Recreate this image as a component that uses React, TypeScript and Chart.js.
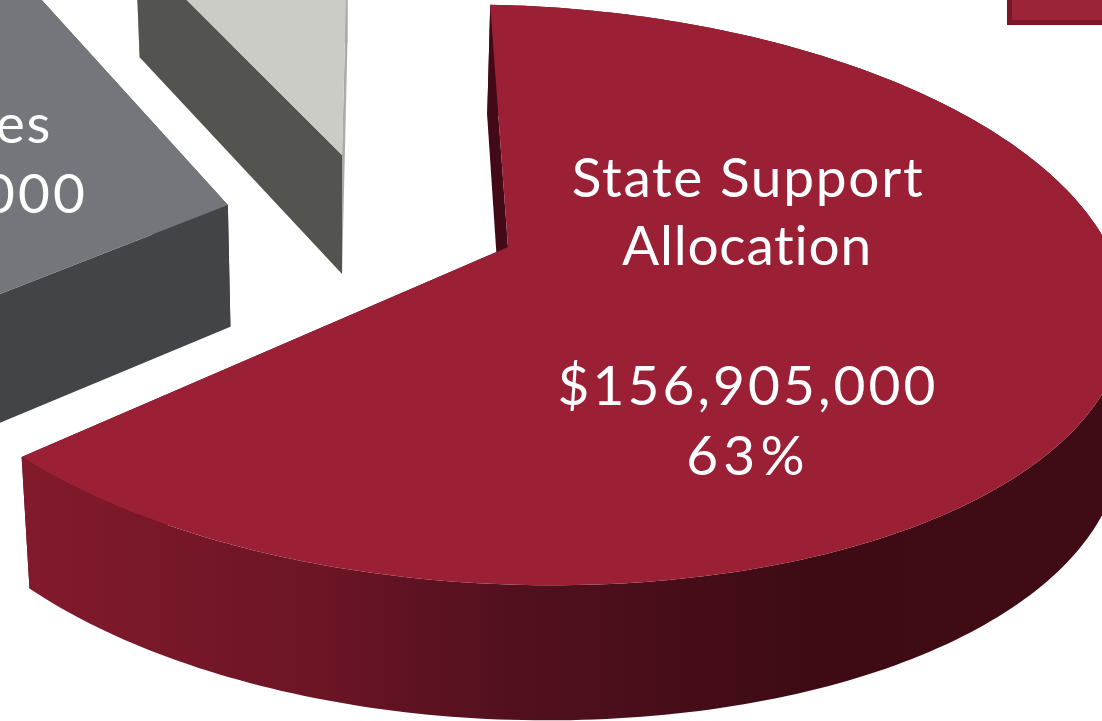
import React, { useEffect, useRef } from "react";
import { Chart, ArcElement, PieController, Tooltip } from "chart.js";

const categories = ["State Support Allocation", "Tuition and Fees", "Other"];
const shareValues = [63, 30.15, 6.85];
const sliceColors = ["#9b2036", "#74767b", "#cbccc6"];
const stateLabelLines = ["State Support", "Allocation", "$156,905,000", "63%"];
const clippedLabelLines = ["es", "000"];

// Perspective of the pie's plane on the page
const PLANE = { a: 614.3, s: 18.2, x0: 508, b: 241, c: -20, y0: 247, h: 0.027, g: 0.163 };
const SLICE_SHIFT = [[0, 0], [-0.443, -0.194], [-0.2295, -0.3664]];
const WALL_START = ["#420a17", "#434448", "#535350"];
const WALL_END = ["#420a17", "#434448", "#a9aba6"];
const WALL_RIM = ["#420a17", "#434448", "#a9aba6"];

function project(u: number, v: number) {
  const { a, s, x0, b, c, y0, h, g } = PLANE;
  const w = 1 + h * u - g * v;
  return { x: (x0 + a * u + s * v) / w, y: (y0 + b * v + c * u) / w, w };
}
function lower(p: { x: number; y: number; w: number }) {
  const d = 123 - 73 * (p.w - 1);
  const shift = Math.max((342 - p.x) * 0.000186 * d, -4);
  return { x: p.x + shift, y: p.y + d, w: p.w };
}
function poly(ctx: CanvasRenderingContext2D, pts: { x: number; y: number }[], fill: any) {
  ctx.beginPath();
  pts.forEach((p, i) => (i ? ctx.lineTo(p.x, p.y) : ctx.moveTo(p.x, p.y)));
  ctx.closePath();
  ctx.fillStyle = fill;
  ctx.fill();
}

class Arc3D extends ArcElement {
  static id = "arc3d";
  draw(ctx: CanvasRenderingContext2D) {
    const self: any = this;
    const i: number = self.$context.dataIndex;
    const { startAngle, endAngle, options } = self;
    const [du, dv] = SLICE_SHIFT[i];
    const apex = project(du, dv);
    const rim: any[] = [];
    const n = 240;
    for (let k = 0; k <= n; k++) {
      const t = startAngle + ((endAngle - startAngle) * k) / n;
      rim.push(project(du + Math.cos(t), dv + Math.sin(t)));
    }
    const rimLow = rim.map(lower);
    const apexLow = lower(apex);
    ctx.save();
    poly(ctx, [apex, apexLow, rimLow[n], rim[n]], WALL_END[i]);
    let rimFill: any = WALL_RIM[i];
    if (i === 0) {
      const g = ctx.createLinearGradient(22, 0, 1000, 0);
      g.addColorStop(0, "#821a2c");
      g.addColorStop(0.3, "#6c1525");
      g.addColorStop(0.5, "#52101e");
      g.addColorStop(0.8, "#3e0b14");
      g.addColorStop(1, "#3f0b14");
      rimFill = g;
    }
    poly(ctx, [...rim, ...rimLow.slice().reverse()], rimFill);
    poly(ctx, [apex, apexLow, rimLow[0], rim[0]], WALL_START[i]);
    poly(ctx, [apex, ...rim], options.backgroundColor);
    ctx.restore();
  }
}

class Pie3D extends PieController {
  static id = "pie3d";
  static defaults = { ...(PieController as any).defaults, dataElementType: "arc3d" };
  static overrides = (PieController as any).overrides;
}

function text(ctx: CanvasRenderingContext2D, s: string, x: number, y: number, spacing: number, align: CanvasTextAlign) {
  (ctx as any).letterSpacing = spacing + "px";
  ctx.textAlign = align;
  ctx.fillText(s, x, y);
}

const labelsPlugin = {
  id: "labels3d",
  afterDatasetsDraw(chart: any) {
    const ctx: CanvasRenderingContext2D = chart.ctx;
    ctx.save();
    ctx.fillStyle = "#ffffff";
    ctx.font = '400 55px "Lato", sans-serif';
    ctx.textBaseline = "alphabetic";
    text(ctx, stateLabelLines[0], 748, 197, 1.7, "center");
    text(ctx, stateLabelLines[1], 747, 265, 0.75, "center");
    text(ctx, stateLabelLines[2], 748, 405, 3.1, "center");
    text(ctx, stateLabelLines[3], 748, 475, 5.2, "center");
    text(ctx, clippedLabelLines[0], 52, 143, 1.7, "right");
    text(ctx, clippedLabelLines[1], 88, 213, 3.1, "right");
    // Corner of the legend key at the top right
    ctx.fillStyle = "#7a1626";
    ctx.fillRect(1007, -5, 100, 30);
    ctx.fillStyle = "#9b2438";
    ctx.fillRect(1012, -5, 95, 25);
    ctx.restore();
  },
};

Chart.register(Arc3D as any, Pie3D as any, Tooltip);

export default function App() {
  const ref = useRef<HTMLCanvasElement>(null);
  useEffect(() => {
    const chart = new Chart(ref.current!, {
      type: "pie3d" as any,
      data: {
        labels: categories,
        datasets: [{ data: shareValues, backgroundColor: sliceColors, borderWidth: 0 }],
      },
      options: {
        responsive: false,
        animation: false,
        rotation: 7.6,
        plugins: { legend: { display: false }, tooltip: { enabled: false } },
      } as any,
      plugins: [labelsPlugin],
    });
    return () => chart.destroy();
  }, []);
  return (
    <div style={{ position: "fixed", left: 0, top: 0, width: 1102, height: 721, overflow: "hidden", background: "#fff" }}>
      <canvas ref={ref} width={1102} height={721} style={{ display: "block" }} />
    </div>
  );
}
